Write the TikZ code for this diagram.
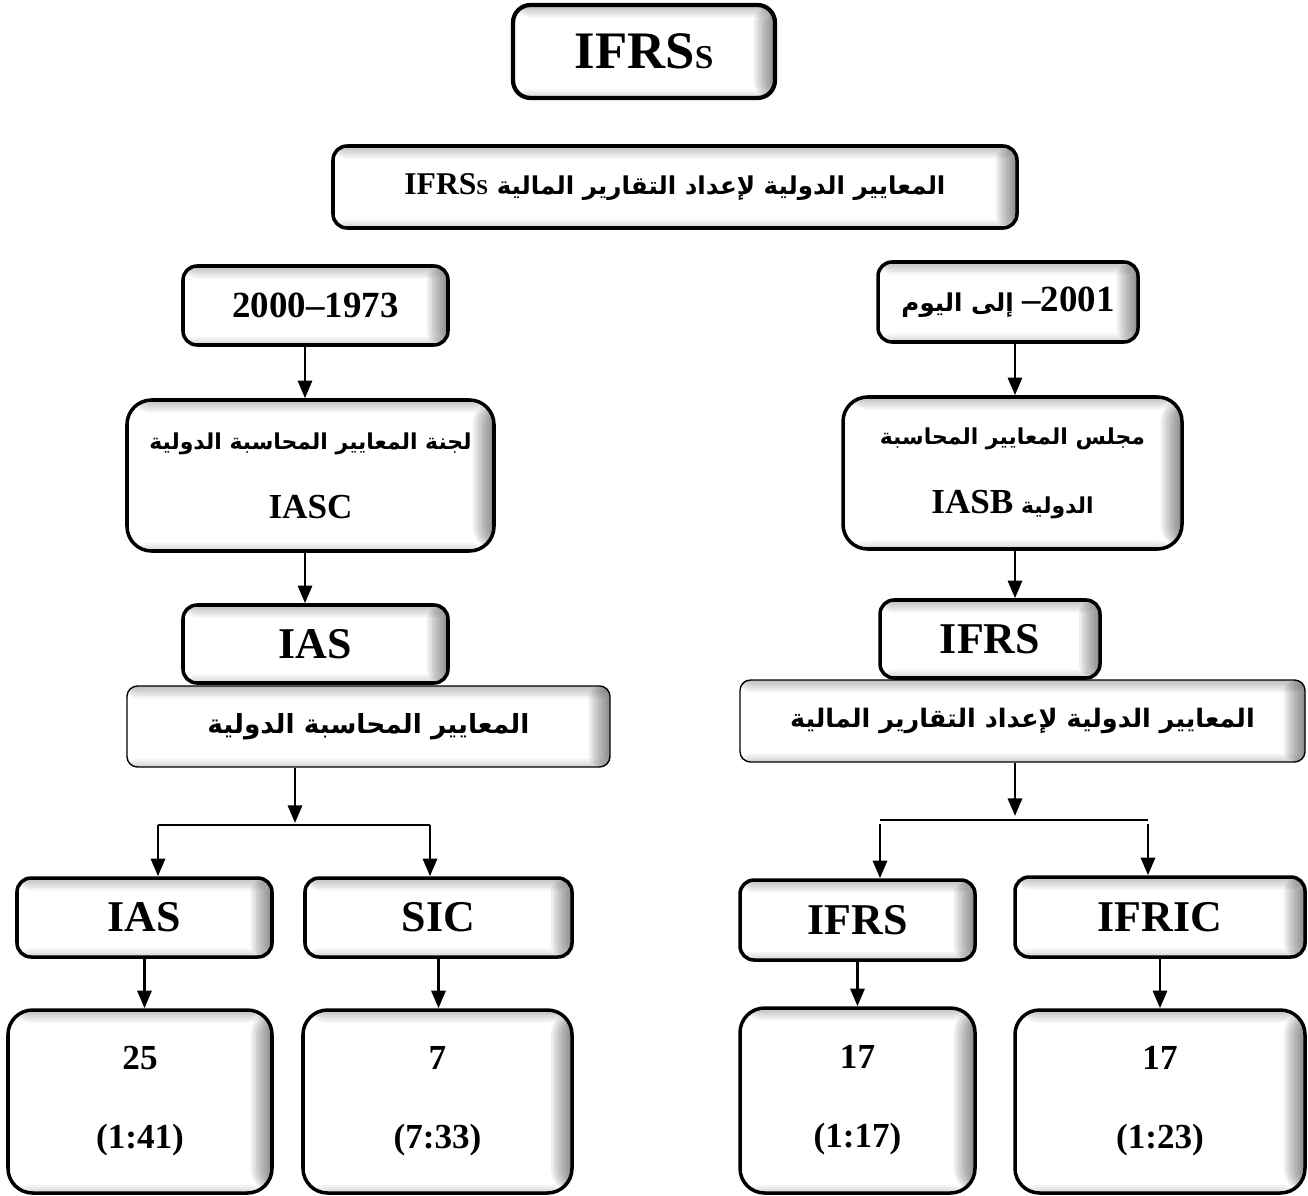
\documentclass[tikz,border=0pt]{standalone}
\usepackage{fontspec}
\setmainfont{Liberation Serif}
\newfontfamily\arabicfont[Script=Arabic]{DejaVu Sans}
\TeXXeTstate=1
\usetikzlibrary{arrows.meta}
\newcommand\artxt[1]{{\arabicfont\bfseries\beginR #1\endR}}
\newcommand\lat[1]{\beginL{\rmfamily\bfseries #1}\endL}
\tikzset{
  bx/.style={draw, line width=2pt, fill=white, rounded corners=8pt, inner sep=0pt, align=center,
    font=\bfseries\fontsize{20}{24}\selectfont,
    path picture={
      \foreach \k in {1,...,8}{
        \fill[black, opacity=.065] ([xshift=-\k*1.5pt]path picture bounding box.north east) rectangle (path picture bounding box.south east);}
      \foreach \k in {1,...,5}{
        \fill[black, opacity=.05] (path picture bounding box.north west) rectangle ([yshift=-\k*1.4pt]path picture bounding box.north east);}
      \foreach \k in {1,...,4}{
        \fill[black, opacity=.04] (path picture bounding box.south west) rectangle ([yshift=\k*1.2pt]path picture bounding box.south east);}
    }},
  bxthin/.style={bx, line width=0.8pt, rounded corners=6pt},
  sz/.style 2 args={minimum width=#1*0.02cm, minimum height=#2*0.02cm},
  big/.style={font=\bfseries\fontsize{25}{29}\selectfont},
  arfont/.style={font=\bfseries\fontsize{14}{18}\selectfont},
  arsmall/.style={font=\bfseries\fontsize{12.5}{16}\selectfont},
  arr/.style={line width=1.6pt, -{Triangle[length=10pt,width=8pt]}},
}
\begin{document}
\begin{tikzpicture}[x=0.02cm, y=-0.02cm]
\fill[white] (0,0) rectangle (1308,1196);
\useasboundingbox (0,0) rectangle (1308,1196);

\node[bx, sz={262}{93}, rounded corners=10pt, line width=2.4pt, font=\bfseries\fontsize{30}{34}\selectfont] (top) at (644,51.5) {IFRS{\fontsize{19}{22}\selectfont S}};

\node[bx, sz={684}{82}, arfont] (main) at (675,187) {\artxt{المعايير الدولية لإعداد التقارير المالية \lat{\fontsize{18}{22}\selectfont IFRS{\fontsize{12}{14}\selectfont S}}}};

\node[bx, sz={265}{79}, font=\bfseries\fontsize{21}{25}\selectfont] (L1) at (315.5,305.5) {2000–1973};
\node[bx, sz={260}{80}, arfont] (R1) at (1008,302) {\artxt{\lat{\fontsize{21}{25}\selectfont 2001}{\rmfamily\bfseries\fontsize{21}{25}\selectfont –} إلى اليوم}};

\node[bx, sz={367}{151}, rounded corners=14pt, arsmall] (L2) at (310.5,475.5) {\artxt{لجنة المعايير المحاسبة الدولية}\\[22pt]{\rmfamily\fontsize{20}{24}\selectfont IASC}};
\node[bx, sz={339}{152}, rounded corners=14pt, arsmall] (R2) at (1012.5,473) {\artxt{مجلس المعايير المحاسبة}\\[22pt]\artxt{الدولية \lat{\fontsize{20}{24}\selectfont IASB}}};

\node[bx, sz={265}{78}, big] (L3) at (315.5,644) {IAS};
\node[bxthin, sz={483}{81}, font=\bfseries\fontsize{15}{19}\selectfont] (L4) at (368.5,726.5) {\artxt{المعايير المحاسبة الدولية}};
\node[bx, sz={220}{78}, big] (R3) at (990,639) {IFRS};
\node[bxthin, sz={565}{82}, font=\bfseries\fontsize{14.5}{18}\selectfont] (R4) at (1022.5,721) {\artxt{المعايير الدولية لإعداد التقارير المالية}};

\node[bx, sz={255}{79}, big] (b1) at (144.5,917.5) {IAS};
\node[bx, sz={267}{79}, big] (b2) at (438.5,917.5) {SIC};
\node[bx, sz={235}{80}, big] (b3) at (857.5,920) {IFRS};
\node[bx, sz={290}{80}, big] (b4) at (1160,917) {IFRIC};

\node[bx, sz={264}{183}, rounded corners=14pt] (n1) at (140,1101.5) {25\\[21pt](1:41)};
\node[bx, sz={269}{183}, rounded corners=14pt] (n2) at (437.5,1101.5) {7\\[21pt](7:33)};
\node[bx, sz={235}{185}, rounded corners=14pt] (n3) at (857.5,1100.5) {17\\[21pt](1:17)};
\node[bx, sz={290}{183}, rounded corners=14pt] (n4) at (1160,1101.5) {17\\[21pt](1:23)};

\coordinate (cL) at (305,0);
\coordinate (cR) at (1015,0);
\draw[arr] (cL |- L1.south) -- (cL |- L2.north);
\draw[arr] (cL |- L2.south) -- (cL |- L3.north);
\draw[arr] (cR |- R1.south) -- (cR |- R2.north);
\draw[arr] (cR |- R2.south) -- (cR |- R3.north);

\coordinate (jL) at (295,823);
\coordinate (hL1) at (158,825);
\coordinate (hL2) at (430,825);
\draw[arr] (jL |- L4.south) -- (jL);
\draw[line width=1.2pt] (hL1) -- (hL2);
\draw[arr] (hL1) -- (hL1 |- b1.north);
\draw[arr] (hL2) -- (hL2 |- b2.north);

\coordinate (jR) at (1015,816);
\coordinate (hR1) at (880,820);
\coordinate (hR2) at (1148,820);
\draw[arr] (jR |- R4.south) -- (jR);
\draw[line width=0.8pt] (hR1) -- (hR2);
\draw[arr] ([yshift=-2pt]hR1) -- (hR1 |- b3.north);
\draw[arr] ([yshift=-2pt]hR2) -- (hR2 |- b4.north);

\draw[arr] (b1.south) -- (b1.south |- n1.north);
\draw[arr] (b2.south) -- (b2.south |- n2.north);
\draw[arr] (b3.south) -- (b3.south |- n3.north);
\draw[arr] (b4.south) -- (b4.south |- n4.north);
\end{tikzpicture}
\end{document}
